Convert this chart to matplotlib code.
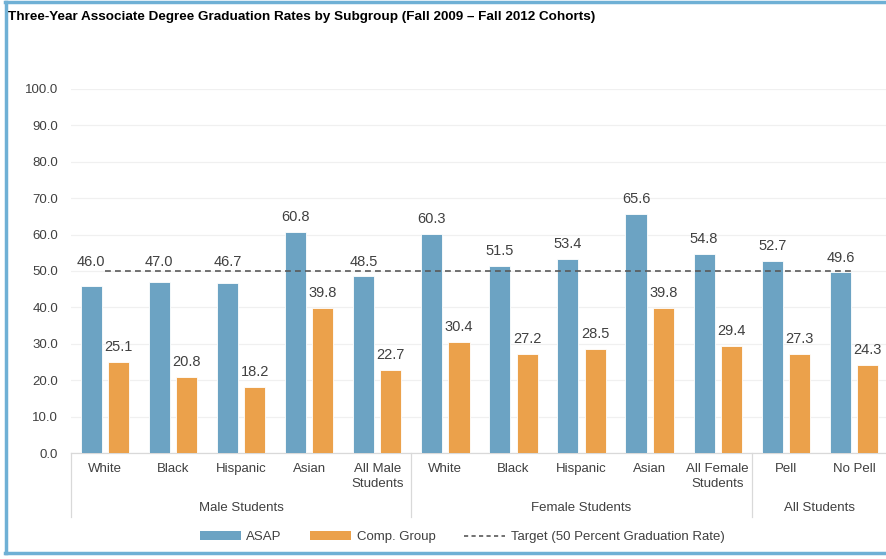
import matplotlib
matplotlib.use("Agg")
import matplotlib.pyplot as plt
from matplotlib.patches import Patch
from matplotlib.lines import Line2D
import matplotlib.transforms as mtransforms
import numpy as np

plt.rcParams['font.family'] = ['Liberation Sans', 'DejaVu Sans']

title = "Three-Year Associate Degree Graduation Rates by Subgroup (Fall 2009 \u2013 Fall 2012 Cohorts)"
categories = ["White", "Black", "Hispanic", "Asian", "All Male\nStudents",
              "White", "Black", "Hispanic", "Asian", "All Female\nStudents",
              "Pell", "No Pell"]
groups = ["Male Students", "Female Students", "All Students"]
group_sizes = [5, 5, 2]
asap = [46.0, 47.0, 46.7, 60.8, 48.5, 60.3, 51.5, 53.4, 65.6, 54.8, 52.7, 49.6]
comp = [25.1, 20.8, 18.2, 39.8, 22.7, 30.4, 27.2, 28.5, 39.8, 29.4, 27.3, 24.3]
TARGET = 50.0
series_names = ["ASAP", "Comp. Group", "Target (50 Percent Graduation Rate)"]
yticks = [0, 10, 20, 30, 40, 50, 60, 70, 80, 90, 100]

C_ASAP = "#6CA3C3"
C_COMP = "#EBA14B"
TXT = "#404040"
BORDER = "#6FB0D5"

W, H = 887, 559
fig = plt.figure(figsize=(W / 100, H / 100), dpi=100)

ax_left, ax_right = 70.8, 888.0
ax_bottom, ax_top = 453.0, 89.0
ax = fig.add_axes([ax_left / W, 1 - ax_bottom / H,
                   (ax_right - ax_left) / W, (ax_bottom - ax_top) / H])

x = np.arange(len(categories))
bw = 0.31
off = 0.2
ax.bar(x - off, asap, bw, color=C_ASAP, edgecolor="white", linewidth=0.6, zorder=3)
ax.bar(x + off, comp, bw, color=C_COMP, edgecolor="white", linewidth=0.6, zorder=3)
ax.plot([x[0], x[-1]], [TARGET, TARGET], color="#595959", lw=1.2,
        dashes=(3.5, 2.5), zorder=4)

ax.set_xlim(-0.5, len(categories) - 0.5)
ax.set_ylim(0, 100)
ax.set_yticks(yticks)
ax.set_yticklabels([f"{v:.1f}" for v in yticks], fontsize=9.5, color=TXT)
ax.tick_params(axis="y", length=0, pad=9)
ax.grid(axis="y", color="#F0F0F0", lw=0.9, zorder=0)
ax.set_axisbelow(True)
for s in ["top", "right", "left"]:
    ax.spines[s].set_visible(False)
ax.spines["bottom"].set_color("#D9D9D9")
ax.spines["bottom"].set_linewidth(0.9)

ax.set_xticks(x)
ax.set_xticklabels(categories, fontsize=9.5, color=TXT, linespacing=1.35)
ax.tick_params(axis="x", length=0, pad=7)

# value labels
for xi, v in zip(x, asap):
    y = v + 4.1
    if v < TARGET:
        y = max(y, TARGET + 2.5)
    ax.text(xi - off, y, f"{v:.1f}", ha="center", va="center", fontsize=10.5, color=TXT, zorder=5)
for xi, v in zip(x, comp):
    ax.text(xi + off, v + 4.1, f"{v:.1f}", ha="center", va="center", fontsize=10.5, color=TXT, zorder=5)

# group labels & separators
trans = mtransforms.blended_transform_factory(ax.transData, ax.transAxes)
start = 0
bounds = [-0.5]
for g, n in zip(groups, group_sizes):
    center = start + (n - 1) / 2
    ax.text(center, -0.151, g, transform=trans, ha="center", va="center",
            fontsize=9.5, color=TXT)
    start += n
    bounds.append(start - 0.5)
for b in bounds:
    ax.add_line(Line2D([b, b], [0, -0.176], transform=trans, color="#D9D9D9",
                       lw=0.9, clip_on=False))

# legend
handles = [Patch(facecolor=C_ASAP, edgecolor="none"),
           Patch(facecolor=C_COMP, edgecolor="none"),
           Line2D([], [], color="#595959", lw=1.2, dashes=(2.5, 2))]
fig.legend(handles, series_names, loc="center", bbox_to_anchor=(462 / W, 1 - 537 / H),
           ncol=3, frameon=False, fontsize=9.5, handlelength=3.1, handleheight=0.6,
           handletextpad=0.4, columnspacing=2.2, labelcolor=TXT)

# title
fig.text(8 / W, 1 - 17 / H, title, ha="left", va="center", fontsize=9.7,
         fontweight="bold", color="black")

# border
fig.add_artist(Line2D([6 / W, 6 / W], [1 - 2 / H, 1 - 553 / H], color=BORDER, lw=2.5,
                      transform=fig.transFigure))
fig.add_artist(Line2D([5 / W, 1.0], [1 - 2 / H, 1 - 2 / H], color=BORDER, lw=2.5,
                      transform=fig.transFigure))
fig.add_artist(Line2D([5 / W, 1.0], [1 - 553 / H, 1 - 553 / H], color=BORDER, lw=2.5,
                      transform=fig.transFigure))

fig.savefig("out.png", dpi=100)
